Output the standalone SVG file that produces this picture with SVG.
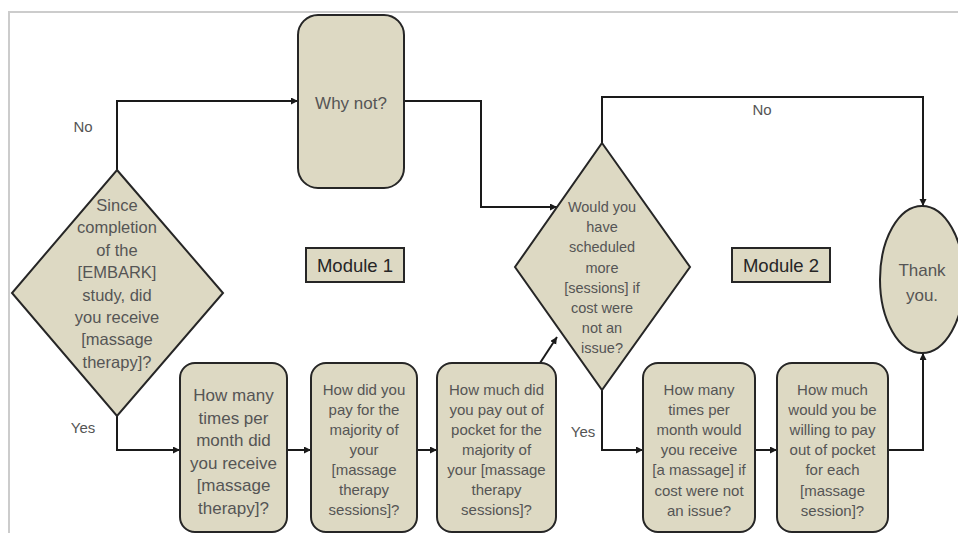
<svg xmlns="http://www.w3.org/2000/svg" width="958" height="533" viewBox="0 0 958 533">
<defs>
<marker id="arr" markerUnits="userSpaceOnUse" markerWidth="8" markerHeight="8" refX="7" refY="3.5" orient="auto">
<path d="M0,0 L7,3.5 L0,7 z" fill="#1a1a1a"/>
</marker>
<style>
.shape{fill:#ddd9c3;stroke:#262626;stroke-width:2}
.conn{fill:none;stroke:#1a1a1a;stroke-width:2;marker-end:url(#arr)}
text{font-family:"Liberation Sans",Arial,sans-serif;text-anchor:middle;fill:#555555}
.t17{font-size:17px}
.t16{font-size:16.5px}
.t15{font-size:15px}
.t14{font-size:14.5px}
.mod{font-size:18.5px;fill:#262626}
.lbl{font-size:15px;fill:#555555}
</style>
</defs>
<rect width="958" height="533" fill="#ffffff"/>
<path d="M9,533 V12 H958" fill="none" stroke="#cccccc" stroke-width="2"/>

<g id="connectors">
<path class="conn" d="M117,170 V101 H298"/>
<path class="conn" d="M404,101 H481 V207 H557"/>
<path class="conn" d="M602,143 V97 H923 V206"/>
<path class="conn" d="M117,416 V450 H180"/>
<path class="conn" d="M287,450 H311"/>
<path class="conn" d="M417,450 H437"/>
<path class="conn" d="M540,363 L557,337"/>
<path class="conn" d="M602,390 V450 H643"/>
<path class="conn" d="M755,450 H777"/>
<path class="conn" d="M888,450 H923 V353"/>
<text class="lbl" x="83" y="132">No</text>
<text class="lbl" x="762" y="115">No</text>
<text class="lbl" x="83" y="433">Yes</text>
<text class="lbl" x="583" y="437">Yes</text>
</g>

<g id="q-since">
<path class="shape" d="M117,170 L223,293 L117,416 L12,293 Z"/>
<text class="t16" x="117"><tspan x="117" y="211">Since</tspan><tspan x="117" y="233.4">completion</tspan><tspan x="117" y="255.8">of the</tspan><tspan x="117" y="278.2">[EMBARK]</tspan><tspan x="117" y="300.6">study, did</tspan><tspan x="117" y="323">you receive</tspan><tspan x="117" y="345.4">[massage</tspan><tspan x="117" y="367.8">therapy]?</tspan></text>
</g>

<g id="why-not">
<rect class="shape" x="298" y="15" width="106" height="173" rx="20"/>
<text class="t17" x="351" y="109">Why not?</text>
</g>

<g id="module1">
<rect x="306" y="248" width="98" height="34" fill="#ddd9c3" stroke="#262626" stroke-width="2"/>
<text class="mod" x="355" y="271.5">Module 1</text>
</g>

<g id="module2">
<rect x="732" y="248" width="98" height="34" fill="#ddd9c3" stroke="#262626" stroke-width="2"/>
<text class="mod" x="781" y="271.5">Module 2</text>
</g>

<g id="q-would">
<path class="shape" d="M602,143 L690,267 L602,390 L515,267 Z"/>
<text class="t14" x="602"><tspan x="602" y="212">Would you</tspan><tspan x="602" y="232.2">have</tspan><tspan x="602" y="252.4">scheduled</tspan><tspan x="602" y="272.6">more</tspan><tspan x="602" y="292.8">[sessions] if</tspan><tspan x="602" y="313">cost were</tspan><tspan x="602" y="333.2">not an</tspan><tspan x="602" y="353.4">issue?</tspan></text>
</g>

<g id="thank-you">
<ellipse class="shape" cx="922" cy="279.5" rx="42" ry="73.5"/>
<text class="t17" x="922"><tspan x="922" y="276">Thank</tspan><tspan x="922" y="301">you.</tspan></text>
</g>

<g id="q-times">
<rect class="shape" x="180" y="363" width="107" height="169" rx="15"/>
<text class="t17" x="233.5"><tspan x="233.5" y="401">How many</tspan><tspan x="233.5" y="423.5">times per</tspan><tspan x="233.5" y="446">month did</tspan><tspan x="233.5" y="468.5">you receive</tspan><tspan x="233.5" y="491">[massage</tspan><tspan x="233.5" y="513.5">therapy]?</tspan></text>
</g>

<g id="q-pay">
<rect class="shape" x="311" y="363" width="106" height="169" rx="15"/>
<text class="t15" x="364"><tspan x="364" y="395">How did you</tspan><tspan x="364" y="415">pay for the</tspan><tspan x="364" y="435">majority of</tspan><tspan x="364" y="455">your</tspan><tspan x="364" y="475">[massage</tspan><tspan x="364" y="495">therapy</tspan><tspan x="364" y="515">sessions]?</tspan></text>
</g>

<g id="q-howmuch">
<rect class="shape" x="437" y="363" width="119" height="169" rx="15"/>
<text class="t15" x="496.5"><tspan x="496.5" y="395">How much did</tspan><tspan x="496.5" y="415">you pay out of</tspan><tspan x="496.5" y="435">pocket for the</tspan><tspan x="496.5" y="455">majority of</tspan><tspan x="496.5" y="475">your [massage</tspan><tspan x="496.5" y="495">therapy</tspan><tspan x="496.5" y="515">sessions]?</tspan></text>
</g>

<g id="q-times2">
<rect class="shape" x="643" y="363" width="112" height="169" rx="15"/>
<text class="t15" x="699"><tspan x="699" y="395">How many</tspan><tspan x="699" y="415">times per</tspan><tspan x="699" y="435">month would</tspan><tspan x="699" y="455">you receive</tspan><tspan x="699" y="475">[a massage] if</tspan><tspan x="699" y="495.5">cost were not</tspan><tspan x="699" y="515.5">an issue?</tspan></text>
</g>

<g id="q-willing">
<rect class="shape" x="777" y="363" width="111" height="169" rx="15"/>
<text class="t15" x="832.5"><tspan x="832.5" y="395">How much</tspan><tspan x="832.5" y="415">would you be</tspan><tspan x="832.5" y="435">willing to pay</tspan><tspan x="832.5" y="455">out of pocket</tspan><tspan x="832.5" y="475">for each</tspan><tspan x="832.5" y="495.5">[massage</tspan><tspan x="832.5" y="515.5">session]?</tspan></text>
</g>
</svg>
